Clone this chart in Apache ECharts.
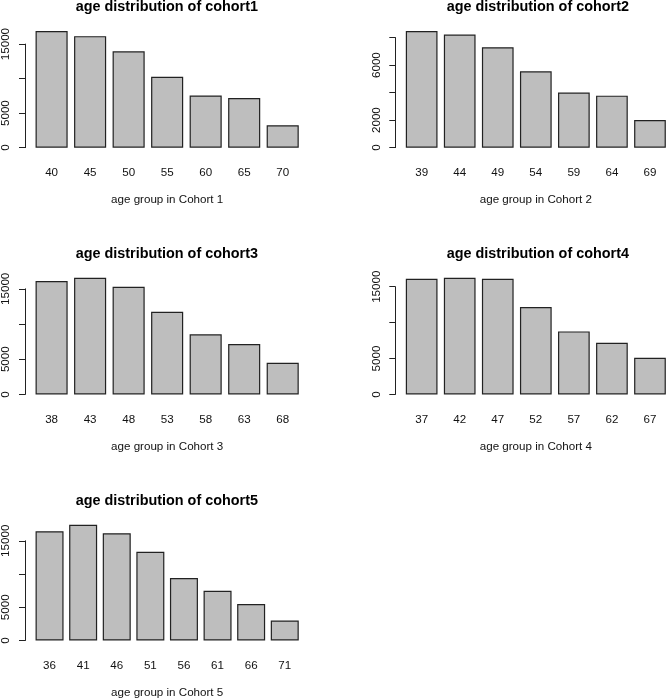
<!DOCTYPE html>
<html><head><meta charset="utf-8">
<script src="https://cdn.jsdelivr.net/npm/echarts@6/dist/echarts.min.js"></script>
<style>html,body{margin:0;padding:0;background:#fff}#c{width:669px;height:700px}</style>
</head><body><div id="c"></div>
<script>
// ---- data ----
const titles = ['age distribution of cohort1','age distribution of cohort2','age distribution of cohort3','age distribution of cohort4','age distribution of cohort5'];
const xNames = ['age group in Cohort 1','age group in Cohort 2','age group in Cohort 3','age group in Cohort 4','age group in Cohort 5'];

const ages1 = ['40','45','50','55','60','65','70'];
const ages2 = ['39','44','49','54','59','64','69'];
const ages3 = ['38','43','48','53','58','63','68'];
const ages4 = ['37','42','47','52','57','62','67'];
const ages5 = ['36','41','46','51','56','61','66','71'];

const counts1 = [16900, 16150, 13950, 10250, 7550, 7200, 3250];
const counts2 = [8480, 8220, 7300, 5550, 4000, 3780, 2010];
const counts3 = [16100, 16570, 15290, 11730, 8540, 7170, 4510];
const counts4 = [16110, 16250, 16110, 12170, 8780, 7200, 5110];
const counts5 = [16430, 17420, 16130, 13360, 9400, 7470, 5490, 3015];

const yTicks1 = [0, 5000, 10000, 15000];
const yTicks2 = [0, 2000, 4000, 6000, 8000];
const yTicks3 = [0, 5000, 10000, 15000];
const yTicks4 = [0, 5000, 10000, 15000];
const yTicks5 = [0, 5000, 10000, 15000];

const yLabels1 = ['0', '5000', '', '15000'];
const yLabels2 = ['0', '2000', '', '6000', ''];
const yLabels3 = ['0', '5000', '', '15000'];
const yLabels4 = ['0', '5000', '', '15000'];
const yLabels5 = ['0', '5000', '', '15000'];

// ---- assemble ----
const panels = [
  {title: titles[0], xName: xNames[0], cats: ages1, vals: counts1, ticks: yTicks1, labels: yLabels1},
  {title: titles[1], xName: xNames[1], cats: ages2, vals: counts2, ticks: yTicks2, labels: yLabels2},
  {title: titles[2], xName: xNames[2], cats: ages3, vals: counts3, ticks: yTicks3, labels: yLabels3},
  {title: titles[3], xName: xNames[3], cats: ages4, vals: counts4, ticks: yTicks4, labels: yLabels4},
  {title: titles[4], xName: xNames[4], cats: ages5, vals: counts5, ticks: yTicks5, labels: yLabels5}
];

const FONT = '"Liberation Sans", Arial, Helvetica, sans-serif';
const TXT = '#111';
const PLOT_LEFT = [24.3, 395.3];
const PLOT_TOP = [26.3, 273.1, 519.9];
const PLOT_W = 285, PLOT_H = 126;

const grid = [], xAxis = [], yAxis = [], series = [], title = [];
panels.forEach((p, i) => {
  const col = i % 2, row = Math.floor(i / 2);
  const n = p.cats.length;
  const range = 1.2 * n - 0.2;
  const unit = PLOT_W / (1.08 * range);
  const gridLeft = PLOT_LEFT[col] + (0.04 * range - 0.1) * unit;
  const gridW = 1.2 * n * unit;
  const M = Math.max.apply(null, p.vals);
  const k = PLOT_H / (1.08 * M);
  const zeroY = PLOT_TOP[row] + 1.04 * M * k;
  const lastTick = p.ticks[p.ticks.length - 1];
  const gridH = lastTick * k;
  grid.push({left: gridLeft, top: zeroY - gridH, width: gridW, height: gridH, containLabel: false});
  xAxis.push({
    type: 'category', gridIndex: i, data: p.cats,
    axisLine: {show: false}, axisTick: {show: false}, splitLine: {show: false},
    axisLabel: {margin: 25, verticalAlign: 'middle', fontSize: 11.6, color: TXT, fontFamily: FONT, interval: 0},
    name: p.xName, nameLocation: 'middle', nameGap: 52.5,
    nameTextStyle: {fontSize: 11.6, color: TXT, fontFamily: FONT, verticalAlign: 'middle'}
  });
  yAxis.push({
    type: 'value', gridIndex: i, min: 0, max: lastTick, interval: p.ticks[1] - p.ticks[0],
    offset: gridLeft - PLOT_LEFT[col],
    splitLine: {show: false},
    axisLine: {show: true, lineStyle: {color: '#222', width: 1}},
    axisTick: {show: true, length: 6, lineStyle: {color: '#222', width: 1}},
    axisLabel: {rotate: 90, margin: 13, fontSize: 11.6, color: TXT, fontFamily: FONT,
      formatter: (v) => { const j = p.ticks.indexOf(v); return j >= 0 ? p.labels[j] : ''; }}
  });
  series.push({
    type: 'bar', xAxisIndex: i, yAxisIndex: i, data: p.vals, clip: false,
    barCategoryGap: (0.2 / 1.2 * 100) + '%', silent: true,
    itemStyle: {color: '#BEBEBE', borderColor: '#222', borderWidth: 1.2}
  });
  title.push({
    text: p.title, left: PLOT_LEFT[col] + PLOT_W / 2, top: PLOT_TOP[row] - 19.3,
    textAlign: 'center', textVerticalAlign: 'middle', padding: 0,
    textStyle: {fontSize: 14.4, fontWeight: 'bold', color: '#000', fontFamily: FONT}
  });
});

const chart = echarts.init(document.getElementById('c'), null, {renderer: 'canvas'});
chart.setOption({animation: false, backgroundColor: '#fff', title, grid, xAxis, yAxis, series});
</script></body></html>
